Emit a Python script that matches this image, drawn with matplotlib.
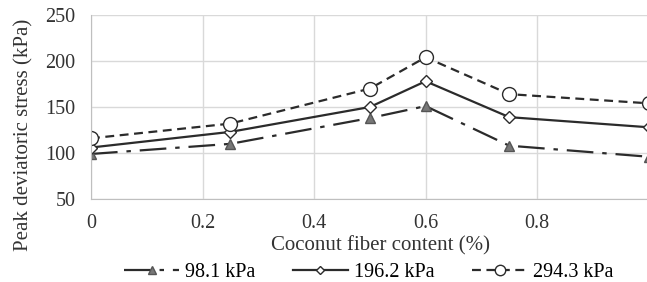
import matplotlib.pyplot as plt

plt.rcParams['font.family'] = ['Liberation Serif', 'DejaVu Serif']

fiber = [0, 0.25, 0.5, 0.6, 0.75, 1.0]
s98 = [99, 110, 138, 151, 108, 96]
s196 = [106, 123, 150, 178, 139, 128]
s294 = [116, 132, 170, 204, 164, 154]

fig = plt.figure(figsize=(6.47, 2.82), dpi=100)
ax = fig.add_axes([0.1406, 0.294, 0.862, 0.653])

col = '#2b2b2b'
ax.plot(fiber, s98, color=col, lw=1.6, dashes=(12, 4, 2, 4), marker='^',
        ms=7, mfc='#777777', mec='#555555', label='98.1 kPa')
ax.plot(fiber, s196, color=col, lw=1.6, ls='-', marker='D', ms=6,
        mfc='white', mec=col, mew=1.0, label='196.2 kPa')
ax.plot(fiber, s294, color=col, lw=1.6, dashes=(4, 2.5), marker='o', ms=10,
        mfc='white', mec=col, mew=1.0, label='294.3 kPa')

ax.set_xlim(0, 1.0)
ax.set_ylim(50, 250)
ax.set_xticks([0, 0.2, 0.4, 0.6, 0.8])
ax.set_xticklabels(['0', '0.2', '0.4', '0.6', '0.8'])
ax.set_yticks([50, 100, 150, 200, 250])
ax.grid(True, color='#d9d9d9', lw=1.0)
ax.set_axisbelow(True)
for s in ['top', 'right']:
    ax.spines[s].set_visible(False)
for s in ['left', 'bottom']:
    ax.spines[s].set_color('#bfbfbf')
ax.tick_params(axis='y', length=0, labelsize=14.5, colors='#333333', pad=11)
ax.tick_params(axis='x', length=0, labelsize=14.5, colors='#333333', pad=11)
ax.set_xlabel('Coconut fiber content (%)', fontsize=15, color='#333333', labelpad=2)
ax.set_ylabel('Peak deviatoric stress (kPa)', fontsize=15, color='#333333', labelpad=9)
# Excel-style label placement: not centred on the plot area
ax.xaxis.label.set_x(0.52)
ax.yaxis.label.set_y(0.348)

fig.legend(loc='lower center', bbox_to_anchor=(0.57, -0.065), ncol=3, frameon=False,
           fontsize=14.5, handlelength=2.7, columnspacing=1.9, handletextpad=0.3,
           markerscale=0.75)

fig.savefig('out.png', dpi=100)
